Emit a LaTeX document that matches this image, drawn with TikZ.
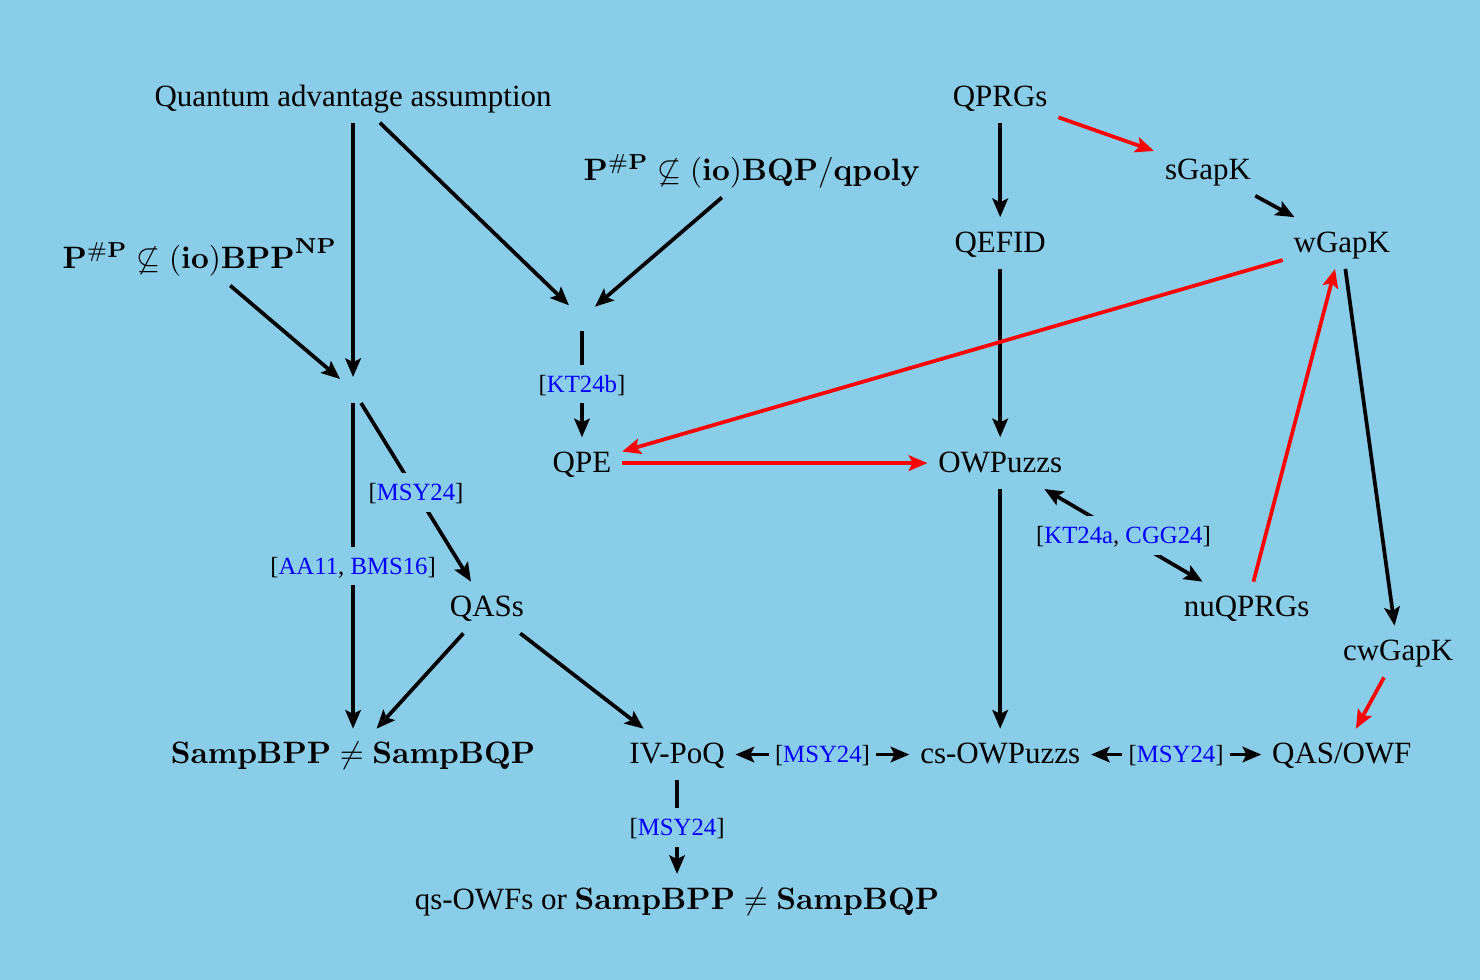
\documentclass[tikz,border=0pt]{standalone}
\usepackage[no-math]{fontspec}
\setmainfont{Liberation Serif}
\usetikzlibrary{arrows.meta}
\definecolor{bgblue}{RGB}{137,205,232}
\newcommand{\citeblue}[1]{\textcolor{blue}{#1}}
\tikzset{
  >={Stealth[length=6pt,width=5pt,inset=1.2pt]},
  every node/.style={text height=1.7ex, text depth=.4ex},
  junc/.style={inner sep=4pt, text height=0pt, text depth=0pt},
  cite/.style={font=\footnotesize, fill=bgblue, inner sep=2pt, text height=1.5ex, text depth=.35ex},
  arr/.style={->, line width=1.2pt},
  redarr/.style={->, line width=1.2pt, red},
}
\begin{document}
\begin{tikzpicture}
  \fill[bgblue] (0,0) rectangle (16.81,11.13);
  % left part
  \node (qaa) at (4.01,10.03) {Quantum advantage assumption};
  \node (pbpp) at (2.27,8.18) {$\mathbf{P}^{\mathbf{\#P}} \not\subseteq \mathbf{(io)BPP}^{\mathbf{NP}}$};
  \node (pbqp) at (8.54,9.18) {$\mathbf{P}^{\mathbf{\#P}} \not\subseteq \mathbf{(io)BQP/qpoly}$};
  \node[junc] (j1) at (4.01,6.70) {};
  \node[junc] (j2) at (6.61,7.52) {};
  \node (qpe) at (6.61,5.87) {QPE};
  \node (qass) at (5.53,4.23) {QASs};
  \node (samp) at (4.01,2.56) {$\mathbf{SampBPP} \neq \mathbf{SampBQP}$};
  \node (ivpoq) at (7.69,2.56) {IV-PoQ};
  \node (qsowf) at (7.69,0.91) {qs-OWFs or $\mathbf{SampBPP} \neq \mathbf{SampBQP}$};
  % right part
  \node (qprg) at (11.36,10.03) {QPRGs};
  \node (qefid) at (11.36,8.37) {QEFID};
  \node (sgapk) at (13.72,9.20) {sGapK};
  \node (wgapk) at (15.24,8.37) {wGapK};
  \node (owp) at (11.36,5.87) {OWPuzzs};
  \node (nuqprg) at (14.16,4.23) {nuQPRGs};
  \node (cwgapk) at (15.88,3.73) {cwGapK};
  \node (csowp) at (11.36,2.56) {cs-OWPuzzs};
  \node (qasowf) at (15.24,2.56) {QAS/OWF};
  % black implications
  \draw[arr] (qaa) -- (j1);
  \draw[arr] (qaa) -- (j2);
  \draw[arr] (pbpp) -- (j1);
  \draw[arr] (pbqp) -- (j2);
  \draw[arr] (j1) -- node[cite] {[\citeblue{AA11}, \citeblue{BMS16}]} (samp);
  \draw[arr] (j1) -- node[cite] {[\citeblue{MSY24}]} (qass);
  \draw[arr] (j2) -- node[cite] {[\citeblue{KT24b}]} (qpe);
  \draw[arr] (qass) -- (samp);
  \draw[arr] (qass) -- (ivpoq);
  \draw[arr] (ivpoq) -- node[cite] {[\citeblue{MSY24}]} (qsowf);
  \draw[arr,<->] (ivpoq) -- node[cite] {[\citeblue{MSY24}]} (csowp);
  \draw[arr,<->] (csowp) -- node[cite] {[\citeblue{MSY24}]} (qasowf);
  \draw[arr] (qprg) -- (qefid);
  \draw[arr] (qefid) -- (owp);
  \draw[arr] (owp) -- (csowp);
  \draw[arr] (sgapk) -- (wgapk);
  \draw[arr] (wgapk) -- (cwgapk);
  \draw[arr,<->] (owp) -- node[cite] {[\citeblue{KT24a}, \citeblue{CGG24}]} (nuqprg);
  % red implications
  \draw[redarr] (qprg) -- (sgapk);
  \draw[redarr] (wgapk) -- (qpe);
  \draw[redarr] (qpe) -- (owp);
  \draw[redarr] (nuqprg) -- (wgapk);
  \draw[redarr] (cwgapk) -- (qasowf);
\end{tikzpicture}
\end{document}
